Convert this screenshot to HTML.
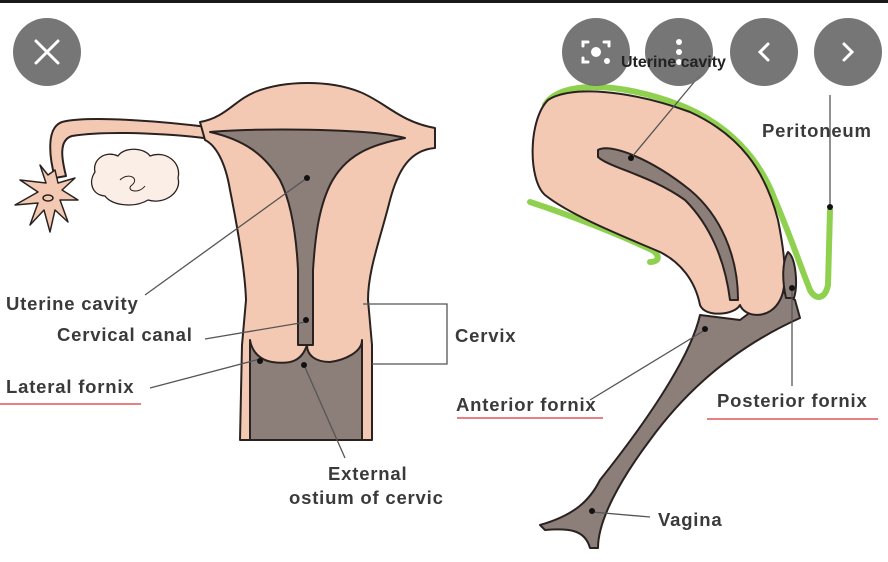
<!DOCTYPE html>
<html><head><meta charset="utf-8"><style>
html,body{margin:0;padding:0;background:#fff;}
svg{display:block}
text{font-family:"Liberation Sans",sans-serif;font-weight:bold;fill:#3a3a3a;font-size:18.5px;letter-spacing:0.8px}
</style></head><body>
<svg width="888" height="562" viewBox="0 0 888 562" xmlns="http://www.w3.org/2000/svg">
<rect width="888" height="562" fill="#fff"/>
<rect width="888" height="3" fill="#1a1a1a"/>

<!-- LEFT DIAGRAM -->
<g stroke="#2a2220" stroke-width="2" stroke-linejoin="round">
<path d="M215,128 C170,122 90,115 62,122 C45,128 50,160 55,178 L66,176 C62,160 58,140 72,136 C110,130 180,134 218,140 Z" fill="#f3c9b3"/>
<path d="M48,175 L40,165 L46,183 L20,180 L38,192 L15,205 L38,203 L30,225 L44,210 L50,232 L55,210 L68,222 L60,200 L78,200 L62,190 L75,178 L58,183 L55,170 Z" fill="#f3c9b3" stroke-width="1.5"/>
<ellipse cx="48" cy="198" rx="5" ry="3" fill="none" stroke-width="1.5"/>
<path d="M95,172 C92,160 105,150 118,156 C125,146 145,148 150,156 C165,150 182,162 178,178 C182,192 165,205 148,200 C135,208 112,206 105,196 C92,195 88,182 95,172 Z" fill="#fbeee6" stroke-width="1.3"/>
<path d="M120,180 C128,172 140,178 132,185 C125,190 138,195 145,186" fill="none" stroke-width="1"/>
<path d="M200,122 C225,118 235,100 255,92 C285,80 330,80 360,92 C385,102 400,122 435,128 L435,148 C410,150 398,170 390,200 C380,240 368,270 368,300 L372,345 L372,440 L240,440 L242,345 L246,300 C245,270 238,230 230,190 C225,160 215,145 205,140 Z" fill="#f3c9b3"/>
<path d="M210,132 C250,128 370,128 405,138 C370,145 345,155 330,185 C318,210 315,240 313,270 L313,345 L298,345 L298,270 C296,230 290,200 280,180 C265,155 245,140 210,132 Z" fill="#8c7f7a"/>
<path d="M250,340 L250,440 L362,440 L362,340 C362,352 345,360 330,362 C315,362 307,355 307,345 C302,360 292,365 272,362 C260,360 252,352 250,340 Z" fill="#8c7f7a"/>
</g>
<g stroke="#555" stroke-width="1.3" fill="none">
<path d="M307,178 L145,295"/>
<path d="M306,322 L205,339"/>
<path d="M260,359 L150,388"/>
<path d="M304,365 L345,458"/>
<path d="M363,304 L447,304 L447,364 L372,364"/>
</g>
<g fill="#111"><circle cx="307" cy="178" r="3"/><circle cx="306" cy="320" r="3"/><circle cx="260" cy="361" r="3"/><circle cx="304" cy="365" r="3"/></g>
<text x="6" y="310">Uterine cavity</text>
<text x="57" y="341">Cervical canal</text>
<text x="6" y="393">Lateral fornix</text>
<line x1="0" y1="404" x2="141" y2="404" stroke="#e0575a" stroke-width="1.5"/>
<text x="328" y="480">External</text>
<text x="289" y="504">ostium of cervic</text>
<text x="455" y="342">Cervix</text>

<!-- RIGHT DIAGRAM -->
<g fill="none" stroke="#8fd14f" stroke-width="6" stroke-linecap="round">
<path d="M545,105 C560,80 620,82 680,105 C730,125 760,160 775,200 C790,235 800,265 810,290 C815,300 825,300 828,285 L830,210"/>
<path d="M530,202 C570,215 620,235 652,250 C660,255 660,262 650,262"/>
</g>
<g stroke="#2a2220" stroke-width="2" stroke-linejoin="round">
<path d="M700,315 C690,360 640,430 600,480 C590,500 575,515 540,525 L545,530 C570,528 585,530 590,548 L598,548 C598,520 620,480 650,440 C690,385 740,345 800,318 L795,300 L780,290 L740,320 Z" fill="#8c7f7a"/>
<path d="M548,100 C570,85 630,90 690,112 C740,135 765,170 778,220 C785,255 788,285 780,300 C770,320 745,318 740,305 C735,315 705,318 700,305 C695,280 680,262 660,252 C620,235 570,215 545,195 C528,180 528,120 548,100 Z" fill="#f3c9b3"/>
<path d="M598,150 C610,143 650,158 690,190 C720,215 738,255 738,300 L730,300 C725,260 710,225 685,200 C650,175 610,168 598,157 Z" fill="#8c7f7a"/>
<path d="M788,252 C796,258 798,285 794,298 L786,298 C782,280 782,262 788,252 Z" fill="#8c7f7a"/>
</g>
<g stroke="#555" stroke-width="1.3" fill="none">
<path d="M631,158 L700,75"/>
<path d="M830,95 L830,207"/>
<path d="M792,290 L792,386"/>
<path d="M705,330 L590,400"/>
<path d="M592,512 L650,517"/>
</g>
<g fill="#111"><circle cx="631" cy="158" r="3"/><circle cx="830" cy="207" r="3"/><circle cx="792" cy="288" r="3"/><circle cx="705" cy="329" r="3"/><circle cx="592" cy="511" r="3"/></g>
<text x="762" y="137">Peritoneum</text>
<text x="456" y="411">Anterior fornix</text>
<line x1="457" y1="418" x2="603" y2="418" stroke="#e0575a" stroke-width="1.5"/>
<text x="717" y="407">Posterior fornix</text>
<line x1="707" y1="419" x2="878" y2="419" stroke="#e0575a" stroke-width="1.5"/>
<text x="658" y="526">Vagina</text>

<g fill="#6f6f6f" opacity="0.95">
<circle cx="47" cy="52" r="34"/><circle cx="596" cy="52" r="34"/><circle cx="679" cy="52" r="34"/><circle cx="764" cy="52" r="34"/><circle cx="848" cy="52" r="34"/>
</g>
<g stroke="#fff" stroke-width="3" fill="none" stroke-linecap="round">
<path d="M36,41 L58,63 M58,41 L36,63"/>
<path d="M583,46 L583,42 L588,42 M604,42 L609,42 L609,46 M583,58 L583,62 L588,62"/>
<path d="M768,44 L760,52 L768,60"/>
<path d="M844,44 L852,52 L844,60"/>
</g>
<g fill="#fff"><circle cx="596" cy="52" r="5"/><circle cx="607" cy="61" r="3"/><circle cx="679" cy="42" r="3"/><circle cx="679" cy="52" r="3"/><circle cx="679" cy="62" r="3"/></g>
<text x="621" y="67" style="font-size:16px;letter-spacing:0;fill:#222">Uterine cavity</text>
</svg>
</body></html>
